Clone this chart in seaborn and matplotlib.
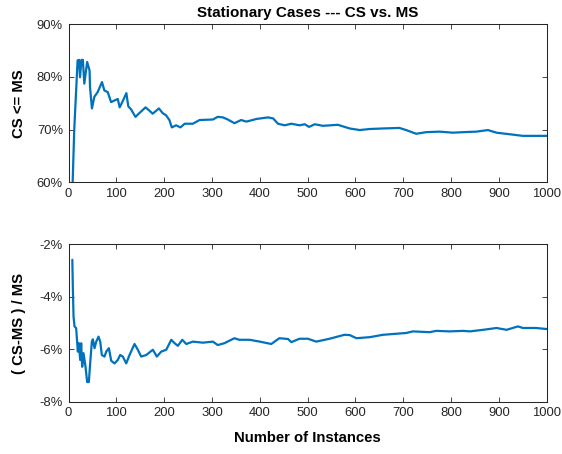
import matplotlib
matplotlib.use('Agg')
import matplotlib.pyplot as plt
import seaborn as sns
import pandas as pd
from matplotlib.ticker import FuncFormatter

# ---- data (percent) ----
top_x = [7, 12, 19, 22, 24, 27, 30, 33, 39, 44, 45, 49, 54, 61, 70, 75, 82, 89, 96, 103,
         107, 114, 121, 125, 131, 140, 148, 161, 169, 176, 189, 197, 204, 211, 216, 225,
         234, 243, 260, 274, 302, 312, 323, 333, 347, 361, 372, 393, 417, 428, 438, 452,
         466, 483, 494, 503, 515, 532, 563, 588, 609, 630, 657, 692, 706, 727, 748, 776,
         804, 825, 853, 877, 895, 923, 950, 978, 1000]
top_y = [55, 70, 83.1, 83.2, 79.9, 83.2, 83.2, 78.7, 82.8, 81.2, 78.0, 74.0, 76.2, 77.1,
         79.0, 77.4, 77.1, 75.2, 75.5, 75.8, 74.2, 75.5, 76.9, 74.4, 73.8, 72.4, 73.1,
         74.2, 73.6, 73.0, 74.0, 73.1, 72.7, 71.8, 70.4, 70.8, 70.4, 71.1, 71.1, 71.8,
         71.9, 72.4, 72.3, 71.9, 71.2, 71.8, 71.5, 72.0, 72.3, 72.1, 71.1, 70.8, 71.1,
         70.8, 71.0, 70.5, 71.0, 70.7, 70.9, 70.2, 69.9, 70.1, 70.2, 70.3, 69.9, 69.2,
         69.5, 69.6, 69.4, 69.5, 69.6, 69.9, 69.4, 69.1, 68.8, 68.8, 68.8]

bot_x = [8, 9, 10.5, 12.6, 16, 19.5, 21.6, 24.4, 26.5, 28.6, 31.4, 35.6, 39, 42.5, 45.3,
         48.8, 51, 54.4, 58, 62.8, 66.3, 69.7, 75.3, 78.9, 84.4, 89.3, 96.2, 103, 108,
         113.6, 120.7, 127.6, 138, 145, 152, 162.5, 176.4, 184.7, 193.9, 204.4, 214.9,
         221.8, 228.7, 237.9, 246.2, 260, 281, 302, 312, 326, 347, 357, 378.7, 400, 424,
         441, 459, 466, 483, 500.6, 518, 546, 577, 588, 602, 630, 657.5, 685.4, 706.5,
         720, 755, 769, 797, 825, 839, 867, 895, 916, 940, 950, 978, 1000]
bot_y = [-2.59, -3.59, -4.75, -5.13, -5.2, -6.09, -5.77, -6.41, -5.77, -6.67, -6.15, -6.67,
         -7.25, -7.25, -6.54, -5.71, -5.62, -5.96, -5.71, -5.52, -5.71, -6.22, -6.28,
         -6.09, -5.96, -6.44, -6.54, -6.41, -6.22, -6.28, -6.54, -6.22, -5.80, -6.02,
         -6.28, -6.22, -6.02, -6.28, -6.09, -6.02, -5.64, -5.77, -5.87, -5.64, -5.80,
         -5.71, -5.75, -5.71, -5.84, -5.77, -5.58, -5.64, -5.64, -5.71, -5.80, -5.58,
         -5.61, -5.73, -5.6, -5.6, -5.71, -5.6, -5.45, -5.46, -5.58, -5.54, -5.45, -5.41,
         -5.38, -5.32, -5.35, -5.30, -5.32, -5.30, -5.32, -5.26, -5.19, -5.26, -5.13,
         -5.19, -5.19, -5.23]

x_ticks = [0, 100, 200, 300, 400, 500, 600, 700, 800, 900, 1000]
top_ticks = [60, 70, 80, 90]
bot_ticks = [-8, -6, -4, -2]

title = 'Stationary Cases --- CS vs. MS'
top_ylabel = 'CS <= MS'
bot_ylabel = '( CS-MS ) / MS'
xlabel = 'Number of Instances'

sns.set_theme(style='white')
plt.rcParams['font.family'] = ['Liberation Sans', 'DejaVu Sans']

LINE = '#0072BD'
AXC = '#262626'

fig = plt.figure(figsize=(5.62, 4.54), dpi=100)
ax1 = fig.add_axes([0.1219, 0.5985, 0.8509, 0.3486])
ax2 = fig.add_axes([0.1219, 0.1152, 0.8509, 0.3467])

df_top = pd.DataFrame({'x': top_x, 'y': top_y})
df_bot = pd.DataFrame({'x': bot_x, 'y': bot_y})
sns.lineplot(data=df_top, x='x', y='y', ax=ax1, color=LINE, linewidth=1.6, sort=False)
sns.lineplot(data=df_bot, x='x', y='y', ax=ax2, color=LINE, linewidth=1.6, sort=False)

pct = FuncFormatter(lambda v, p: f'{int(round(v))}%')
for ax, yt in ((ax1, top_ticks), (ax2, bot_ticks)):
    ax.set_xlim(0, 1000)
    ax.set_ylim(yt[0], yt[-1])
    ax.set_xticks(x_ticks)
    ax.set_yticks(yt)
    ax.yaxis.set_major_formatter(pct)
    ax.grid(False)
    ax.set_facecolor('white')
    for s in ax.spines.values():
        s.set_color(AXC)
        s.set_linewidth(0.75)
        s.set_visible(True)
    ax.tick_params(axis='both', which='major', direction='in', length=3.6, width=0.6,
                   colors=AXC, labelsize=9.4, pad=4, top=True, right=True,
                   bottom=True, left=True)
    ax.set_xlabel('')
    ax.set_ylabel('')

ax1.set_title(title, fontsize=11, fontweight='bold', color='black', pad=5)
ax1.set_ylabel(top_ylabel, fontsize=10.7, fontweight='bold', color='black')
ax2.set_ylabel(bot_ylabel, fontsize=10.7, fontweight='bold', color='black')
ax1.yaxis.set_label_coords(-0.089, 0.5)
ax2.yaxis.set_label_coords(-0.089, 0.5)
ax2.set_xlabel(xlabel, fontsize=10.7, fontweight='bold', color='black')
ax2.xaxis.set_label_coords(0.5, -0.185)

fig.savefig('out.png', dpi=100, facecolor='white')
